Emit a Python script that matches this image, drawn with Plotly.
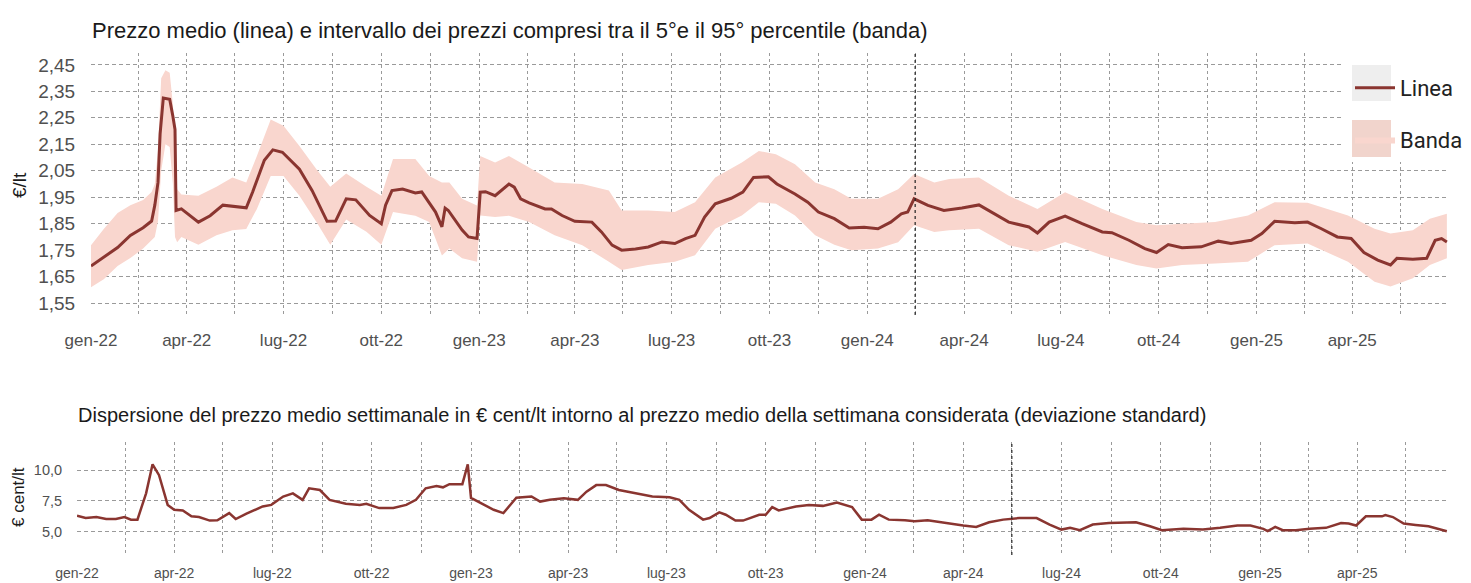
import plotly.graph_objects as go

# ---------------- data ----------------
mean_dates = ["2022-01-01","2022-01-13","2022-01-26","2022-02-07","2022-02-19","2022-02-27","2022-03-02","2022-03-05",
              "2022-03-07","2022-03-10","2022-03-16","2022-03-19","2022-03-21","2022-03-22","2022-03-27","2022-04-12",
              "2022-04-23","2022-05-05","2022-05-27","2022-06-02","2022-06-13","2022-06-21","2022-06-30","2022-07-16",
              "2022-07-28","2022-08-11","2022-08-19","2022-08-29","2022-09-07","2022-09-20","2022-10-01","2022-10-05",
              "2022-10-11","2022-10-21","2022-11-02","2022-11-08","2022-11-21","2022-11-27","2022-11-30","2022-12-03",
              "2022-12-16","2022-12-22","2022-12-30","2023-01-02","2023-01-07","2023-01-16","2023-01-22","2023-01-29",
              "2023-02-03","2023-02-09","2023-02-17","2023-03-04","2023-03-10","2023-03-20","2023-04-01","2023-04-17",
              "2023-04-26","2023-05-06","2023-05-15","2023-05-28","2023-06-09","2023-06-22","2023-07-04","2023-07-14",
              "2023-07-23","2023-08-01","2023-08-11","2023-08-26","2023-09-06","2023-09-16","2023-09-30","2023-10-08",
              "2023-10-25","2023-11-06","2023-11-16","2023-12-01","2023-12-15","2023-12-29","2024-01-11","2024-01-23",
              "2024-02-02","2024-02-08","2024-02-14","2024-02-27","2024-03-13","2024-03-30","2024-04-15","2024-04-27",
              "2024-05-13","2024-06-01","2024-06-09","2024-06-20","2024-07-05","2024-07-21","2024-08-09","2024-08-18",
              "2024-09-03","2024-09-18","2024-09-29","2024-10-10","2024-10-23","2024-11-10","2024-11-26","2024-12-08",
              "2024-12-27","2025-01-06","2025-01-18","2025-02-06","2025-02-18","2025-03-03","2025-03-18","2025-03-31",
              "2025-04-12","2025-04-25","2025-05-07","2025-05-13","2025-05-28","2025-06-10","2025-06-18","2025-06-24",
              "2025-06-29"]
mean_values = [1.69,1.725,1.76,1.806,1.835,1.86,1.92,2.006,
               2.19,2.325,2.32,2.256,2.206,1.90,1.906,1.856,
               1.88,1.92,1.91,1.97,2.09,2.129,2.12,2.056,
               1.975,1.859,1.86,1.944,1.94,1.881,1.85,1.92,
               1.975,1.981,1.966,1.97,1.894,1.838,1.909,1.90,
               1.826,1.80,1.794,1.969,1.971,1.956,1.975,2.0,
               1.988,1.944,1.929,1.906,1.906,1.881,1.859,1.856,
               1.819,1.769,1.75,1.754,1.762,1.781,1.775,1.794,
               1.806,1.875,1.925,1.946,1.969,2.025,2.027,2.0,
               1.9625,1.931,1.894,1.869,1.834,1.837,1.831,1.856,
               1.8875,1.894,1.944,1.919,1.90,1.909,1.921,1.894,
               1.856,1.8375,1.815,1.856,1.879,1.85,1.819,1.816,
               1.7875,1.756,1.741,1.771,1.759,1.7625,1.784,1.775,
               1.7875,1.8125,1.859,1.854,1.856,1.831,1.80,1.794,
               1.741,1.7125,1.694,1.719,1.716,1.719,1.7875,1.794,
               1.781]

band_dates = ["2022-01-01","2022-01-13","2022-01-26","2022-02-07","2022-02-19","2022-02-27","2022-03-02","2022-03-05",
              "2022-03-08","2022-03-12","2022-03-16","2022-03-19","2022-03-21","2022-03-23","2022-03-27","2022-04-12",
              "2022-04-29","2022-05-14","2022-05-27","2022-06-06","2022-06-19","2022-07-01","2022-07-16","2022-08-01",
              "2022-08-14","2022-08-29","2022-09-17","2022-10-01","2022-10-12","2022-11-02","2022-11-15","2022-11-27",
              "2022-12-04","2022-12-16","2022-12-30","2023-01-02","2023-01-16","2023-01-29","2023-02-17","2023-03-13",
              "2023-04-08","2023-05-03","2023-05-15","2023-06-09","2023-07-04","2023-07-23","2023-08-11","2023-09-05",
              "2023-09-21","2023-10-07","2023-10-25","2023-11-13","2023-12-01","2023-12-17","2024-01-11","2024-01-30",
              "2024-02-14","2024-03-04","2024-03-18","2024-04-15","2024-05-13","2024-06-09","2024-07-05","2024-08-09",
              "2024-09-10","2024-09-29","2024-10-23","2024-11-23","2024-12-24","2025-01-18","2025-02-18","2025-03-28",
              "2025-04-22","2025-05-07","2025-05-28","2025-06-13","2025-06-29"]
band_low = [1.61,1.64,1.69,1.72,1.756,1.79,1.80,1.86,
            2.05,2.15,2.14,2.0,1.80,1.78,1.80,1.77,
            1.806,1.825,1.83,1.906,2.03,2.03,1.956,1.856,
            1.77,1.866,1.82,1.77,1.894,1.88,1.856,1.73,
            1.756,1.719,1.706,1.881,1.875,1.88,1.856,1.806,
            1.769,1.706,1.675,1.694,1.706,1.731,1.831,1.881,
            1.931,1.925,1.881,1.806,1.77,1.75,1.756,1.78,
            1.844,1.819,1.825,1.831,1.769,1.744,1.781,1.731,
            1.694,1.681,1.694,1.70,1.706,1.769,1.775,1.706,
            1.631,1.6125,1.644,1.694,1.719]
band_high = [1.769,1.83,1.89,1.92,1.94,1.97,2.0,2.13,
             2.40,2.43,2.42,2.30,2.15,1.98,1.96,1.956,
             1.99,2.025,2.006,2.106,2.244,2.22,2.144,2.056,
             1.99,2.04,1.99,1.956,2.094,2.094,2.03,2.006,
             2.006,1.944,1.919,2.106,2.081,2.106,2.0625,2.006,
             2.0,1.975,1.90,1.90,1.894,1.931,2.025,2.081,
             2.125,2.1125,2.075,2.006,1.98,1.944,1.944,1.98,
             2.0375,2.006,2.019,2.025,1.956,1.906,1.969,1.906,
             1.856,1.844,1.85,1.856,1.881,1.931,1.929,1.881,
             1.831,1.8125,1.825,1.869,1.8875]

sd_dates = ["2022-01-01","2022-01-09","2022-01-19","2022-01-28","2022-02-06","2022-02-14","2022-02-20","2022-02-26",
            "2022-03-06","2022-03-12","2022-03-18","2022-03-26","2022-04-01","2022-04-09","2022-04-17","2022-04-24",
            "2022-05-04","2022-05-11","2022-05-22","2022-05-28","2022-06-07","2022-06-22","2022-06-30","2022-07-11",
            "2022-07-20","2022-07-29","2022-08-04","2022-08-14","2022-08-23","2022-09-07","2022-09-20","2022-09-26",
            "2022-10-08","2022-10-21","2022-11-02","2022-11-11","2022-11-20","2022-11-30","2022-12-06","2022-12-12",
            "2022-12-24","2022-12-29","2023-01-01","2023-01-13","2023-01-22","2023-01-31","2023-02-06","2023-02-12",
            "2023-02-26","2023-03-06","2023-03-15","2023-03-28","2023-04-10","2023-04-18","2023-04-27","2023-05-06",
            "2023-05-18","2023-06-03","2023-06-18","2023-07-04","2023-07-13","2023-07-22","2023-08-04","2023-08-10",
            "2023-08-19","2023-08-25","2023-09-03","2023-09-10","2023-09-25","2023-10-01","2023-10-07","2023-10-13",
            "2023-10-29","2023-11-10","2023-11-23","2023-12-06","2023-12-20","2023-12-29","2024-01-07","2024-01-14",
            "2024-01-23","2024-02-07","2024-02-16","2024-02-28","2024-03-18","2024-04-01","2024-04-13","2024-04-25",
            "2024-05-08","2024-05-23","2024-06-08","2024-06-20","2024-07-01","2024-07-09","2024-07-18","2024-07-30",
            "2024-08-14","2024-08-27","2024-09-08","2024-09-21","2024-10-02","2024-10-22","2024-11-09","2024-11-25",
            "2024-12-11","2024-12-23","2025-01-04","2025-01-08","2025-01-15","2025-01-22","2025-02-03","2025-02-16",
            "2025-03-03","2025-03-17","2025-03-24","2025-03-31","2025-04-09","2025-04-24","2025-04-27","2025-05-04",
            "2025-05-14","2025-05-25","2025-06-06","2025-06-23"]
sd_values = [6.30,6.11,6.19,6.03,6.03,6.19,5.98,5.98,
             8.12,10.48,9.6,7.18,6.78,6.73,6.25,6.19,
             5.9,5.92,6.51,6.03,6.46,7.05,7.18,7.86,
             8.12,7.59,8.53,8.39,7.59,7.27,7.18,7.27,
             6.92,6.92,7.18,7.59,8.53,8.71,8.61,8.87,
             8.87,10.48,7.75,7.18,6.78,6.51,7.18,7.77,
             7.86,7.45,7.59,7.72,7.59,8.26,8.79,8.79,
             8.39,8.12,7.86,7.80,7.59,6.78,5.98,6.11,
             6.57,6.38,5.9,5.9,6.38,6.38,7.0,6.73,
             7.05,7.18,7.1,7.37,7.0,5.98,5.98,6.38,
             5.98,5.92,5.84,5.92,5.65,5.5,5.39,5.76,
             5.98,6.11,6.11,5.58,5.17,5.31,5.12,5.58,
             5.71,5.76,5.76,5.44,5.12,5.23,5.17,5.31,
             5.5,5.5,5.23,5.04,5.39,5.12,5.12,5.23,
             5.31,5.71,5.66,5.5,6.25,6.25,6.35,6.19,
             5.66,5.55,5.44,5.04]

quarter_ticks = ["2022-01-01","2022-04-01","2022-07-01","2022-10-01","2023-01-01","2023-04-01","2023-07-01",
                 "2023-10-01","2024-01-01","2024-04-01","2024-07-01","2024-10-01","2025-01-01","2025-04-01","2025-07-01"]
quarter_labels = ["gen-22","apr-22","lug-22","ott-22","gen-23","apr-23","lug-23",
                  "ott-23","gen-24","apr-24","lug-24","ott-24","gen-25","apr-25",""]
mid_ticks = ["2022-02-15","2022-05-16","2022-08-16","2022-11-16","2023-02-15","2023-05-16","2023-08-16",
             "2023-11-16","2024-02-15","2024-05-16","2024-08-16","2024-11-16","2025-02-15","2025-05-16"]
price_ticks = [1.55, 1.65, 1.75, 1.85, 1.95, 2.05, 2.15, 2.25, 2.35, 2.45]
sd_ticks = [5.0, 7.5, 10.0]

top_title = "Prezzo medio (linea) e intervallo dei prezzi compresi tra il 5°e il 95° percentile (banda)"
bottom_title = ("Dispersione del prezzo medio settimanale in € cent/lt intorno al prezzo medio della "
                "settimana considerata (deviazione standard)")

# ---------------- styling ----------------
W, H = 1471, 583
LINE = "#8a3530"
BAND = "#f9d6ce"
GRID = "#9a9a9a"
TICKC = "#505050"
FONT = "Liberation Sans, Arial, sans-serif"

def px(x):
    return x / W

def py(y):
    return 1 - y / H

fig = go.Figure()
fig.add_trace(go.Scatter(x=band_dates, y=band_low, mode="lines", line=dict(width=0, color=BAND),
                         showlegend=False, hoverinfo="skip", xaxis="x", yaxis="y"))
fig.add_trace(go.Scatter(x=band_dates, y=band_high, mode="lines", line=dict(width=0, color=BAND),
                         fill="tonexty", fillcolor=BAND, name="Banda", legendrank=2, legendgroup="b",
                         xaxis="x", yaxis="y"))
fig.add_trace(go.Scatter(x=mean_dates, y=mean_values, mode="lines", line=dict(color=LINE, width=3),
                         name="Linea", legendrank=1, legendgroup="a", xaxis="x", yaxis="y"))
fig.add_trace(go.Scatter(x=sd_dates, y=sd_values, mode="lines", line=dict(color=LINE, width=2.5),
                         showlegend=False, xaxis="x2", yaxis="y2"))

xcommon = dict(
    type="date", tickmode="array", tickvals=quarter_ticks, ticktext=quarter_labels,
    showgrid=True, gridcolor=GRID, griddash="dot", gridwidth=1,
    minor=dict(tickmode="array", tickvals=mid_ticks, showgrid=True, gridcolor=GRID, griddash="dot", gridwidth=1),
    ticks="outside", tickcolor="rgba(0,0,0,0)", zeroline=False, showline=False, automargin=False,
)
fig.update_layout(
    width=W, height=H, margin=dict(l=0, r=0, t=0, b=0),
    paper_bgcolor="white", plot_bgcolor="white", separators=",.",
    font=dict(family=FONT, color=TICKC),
    xaxis=dict(xcommon, domain=[px(91), px(1449)], range=["2022-01-01", "2025-07-01"], anchor="y",
               ticklen=10, tickfont=dict(size=17, color=TICKC)),
    yaxis=dict(domain=[py(315), py(53)], range=[1.505, 2.495], tickmode="array", tickvals=price_ticks,
               tickformat=".2f", showgrid=True, gridcolor=GRID, griddash="4px,3px", gridwidth=1,
               ticks="outside", ticklen=11, tickcolor="rgba(0,0,0,0)", zeroline=False, showline=False,
               automargin=False, anchor="x", tickfont=dict(size=19, color=TICKC)),
    xaxis2=dict(xcommon, domain=[px(77), px(1449)], range=["2022-01-01", "2025-06-25"], anchor="y2",
                ticklen=5, tickfont=dict(size=14, color=TICKC)),
    yaxis2=dict(domain=[py(555), py(442)], range=[3.1, 12.3], tickmode="array", tickvals=sd_ticks,
                tickformat=".1f", showgrid=True, gridcolor=GRID, griddash="4px,3px", gridwidth=1,
                ticks="outside", ticklen=11, tickcolor="rgba(0,0,0,0)", zeroline=False, showline=False,
                automargin=False, anchor="x2", tickfont=dict(size=14.5, color=TICKC)),
    legend=dict(x=px(1350), y=py(67), xanchor="left", yanchor="top", bgcolor="rgba(0,0,0,0)",
                font=dict(family="Roboto, sans-serif", size=22, color="#222"),
                tracegroupgap=20, traceorder="grouped", itemwidth=40),
    showlegend=True,
)

shapes = [
    # darker dotted verticals seen in the reference
    dict(type="line", xref="x", yref="y domain", x0="2024-02-15", x1="2024-02-15", y0=0, y1=1,
         line=dict(color="#222", width=1.2, dash="dot"), layer="above"),
    dict(type="line", xref="x2", yref="y2 domain", x0="2024-05-16", x1="2024-05-16", y0=0, y1=1,
         line=dict(color="#222", width=1.2, dash="dot"), layer="above"),
    # legend panel
    dict(type="rect", xref="paper", yref="paper", x0=px(1342), x1=1, y0=py(162), y1=py(40),
         fillcolor="white", line=dict(width=0), layer="above"),
    dict(type="rect", xref="paper", yref="paper", x0=px(1352), x1=px(1391), y0=py(101), y1=py(65),
         fillcolor="#eeeeee", line=dict(width=0), layer="above"),
    dict(type="rect", xref="paper", yref="paper", x0=px(1352), x1=px(1391), y0=py(157), y1=py(120),
         fillcolor="#f1d4cc", line=dict(width=0), layer="above"),
]
fig.update_layout(shapes=shapes)

fig.add_annotation(text=top_title, xref="paper", yref="paper", x=px(90), y=py(30), xanchor="left",
                   yanchor="middle", showarrow=False, font=dict(size=22, color="#1a1a1a", family=FONT))
fig.add_annotation(text=bottom_title, xref="paper", yref="paper", x=px(76), y=py(415), xanchor="left",
                   yanchor="middle", showarrow=False, font=dict(size=20, color="#1a1a1a", family=FONT))
fig.add_annotation(text="€/lt", xref="paper", yref="paper", x=px(19), y=py(185), xanchor="center",
                   yanchor="middle", textangle=-90, showarrow=False, font=dict(size=19, color="#1a1a1a", family=FONT))
fig.add_annotation(text="€ cent/lt", xref="paper", yref="paper", x=px(18), y=py(497), xanchor="center",
                   yanchor="middle", textangle=-90, showarrow=False, font=dict(size=17, color="#1a1a1a", family=FONT))

fig.write_html("out.html", config={"displayModeBar": False},
               post_script="document.body.style.margin='0';")
